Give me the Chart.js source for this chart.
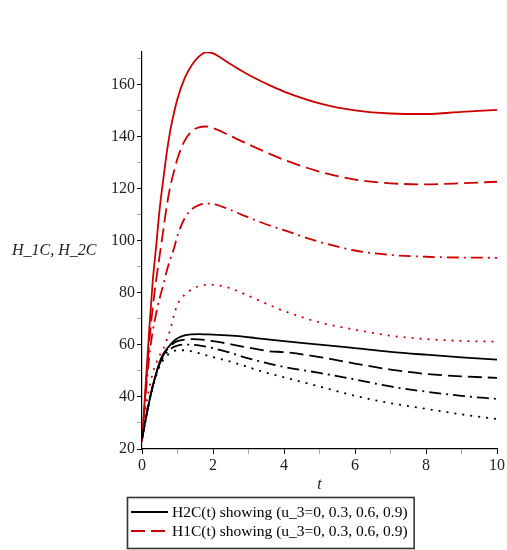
<!DOCTYPE html>
<html>
<head>
<meta charset="utf-8">
<script src="https://cdn.jsdelivr.net/npm/chart.js@4"></script>
<style>
  html, body { margin: 0; padding: 0; background: #fff; }
  #wrap { width: 507px; height: 550px; }
</style>
</head>
<body>
<div id="wrap"><canvas id="c" width="507" height="550"></canvas></div>
<script>
// Time samples shared by every curve
const tValues = [0, 0.1, 0.2, 0.3, 0.4, 0.5, 0.6, 0.7, 0.8, 0.9, 1.0, 1.2, 1.4, 1.6, 1.8, 2.0, 2.4, 2.8, 3.2, 3.6, 4.0, 5, 6, 7, 8, 9, 10];

// H1C(t) for u_3 = 0, 0.3, 0.6, 0.9
const h1cU00 = [23, 44, 65, 84, 98, 112.5, 123.5, 134, 142.5, 149, 154.5, 162.3, 167.3, 170.6, 172.3, 171.9, 168.6, 165.2, 162.2, 159.6, 157.2, 152.7, 150, 148.8, 148.6, 149.4, 150.2];
const h1cU03 = [23, 42, 60, 74, 85, 94.5, 104, 113.5, 121, 126.5, 131.5, 138.3, 142, 143.5, 143.8, 143.2, 140.8, 138.2, 135.7, 133.3, 131, 126.5, 123.4, 122, 121.6, 122, 122.6];
const h1cU06 = [23, 40, 55, 65, 72, 78, 83, 88.5, 93, 97, 102, 108.5, 112, 113.6, 114.2, 114, 112.3, 110, 107.8, 105.8, 104, 99.5, 96.2, 94.5, 93.8, 93.5, 93.4];
const h1cU09 = [23, 35, 43, 49, 53, 56, 58.5, 62, 66, 71.5, 75.5, 79.2, 81.2, 82.5, 83, 83, 82.1, 80, 77.6, 75.2, 73, 68.6, 65.8, 63.5, 62.2, 61.5, 61.2];

// H2C(t) for u_3 = 0, 0.3, 0.6, 0.9
const h2cU00 = [24, 31, 38, 44, 49, 53.5, 56.5, 58.5, 60, 61.5, 62.5, 63.6, 64, 64.1, 64, 63.9, 63.6, 63.2, 62.6, 62, 61.4, 60.1, 58.7, 57.3, 56.2, 55.2, 54.3];
const h2cU03 = [24, 31, 38, 44, 49, 53.3, 56, 58, 59.5, 60.7, 61.4, 62, 62.2, 62.1, 61.8, 61.4, 60.5, 59.4, 58.4, 57.5, 57.2, 55.3, 52.8, 50.5, 48.8, 47.9, 47.3];
const h2cU06 = [24, 31, 38, 44, 48.8, 52.8, 55.3, 57, 58.3, 59.2, 59.7, 60.1, 60, 59.8, 59.3, 58.7, 57.3, 55.6, 54.1, 52.7, 51.5, 49.2, 46.7, 44, 42, 40.4, 39.2];
const h2cU09 = [24, 31, 37.8, 43.5, 48, 51.8, 54.2, 55.8, 56.9, 57.6, 57.9, 57.9, 57.5, 56.8, 56, 55.3, 53.9, 52.3, 50.5, 48.9, 47.5, 44, 40.4, 37.6, 35.4, 33.3, 31.5];

// Axis and legend texts
const yTitle = 'H_1C, H_2C';
const xTitle = 't';
const legendLabels = ['H2C(t) showing (u_3=0, 0.3, 0.6, 0.9)', 'H1C(t) showing (u_3=0, 0.3, 0.6, 0.9)'];

const RED = '#cc0000';
const BLACK = '#000000';
const SERIF = '"Liberation Serif", "Times New Roman", serif';

const dashStyles = [[], [14, 6], [12, 5, 2, 5], [2, 6]];

function series(values, color, dash, label) {
  return {
    label: label,
    data: tValues.map((t, i) => ({ x: t, y: values[i] })),
    borderColor: color,
    backgroundColor: color,
    borderWidth: 1.8,
    borderDash: dash,
    pointRadius: 0,
    fill: false,
    cubicInterpolationMode: 'monotone'
  };
}

const datasets = [
  series(h2cU00, BLACK, dashStyles[0], legendLabels[0]),
  series(h2cU03, BLACK, dashStyles[1], ''),
  series(h2cU06, BLACK, dashStyles[2], ''),
  series(h2cU09, BLACK, dashStyles[3], ''),
  series(h1cU00, RED, dashStyles[0], ''),
  series(h1cU03, RED, dashStyles[1], legendLabels[1]),
  series(h1cU06, RED, dashStyles[2], ''),
  series(h1cU09, RED, dashStyles[3], '')
];

// Horizontal y-axis caption and boxed legend under the plot
const decorations = {
  id: 'decorations',
  afterDraw(chart) {
    const ctx = chart.ctx;
    const area = chart.chartArea;
    ctx.save();
    ctx.fillStyle = '#222';
    ctx.font = 'italic 16px ' + SERIF;
    ctx.textAlign = 'left';
    ctx.textBaseline = 'middle';
    ctx.fillText(yTitle, 12, (area.top + area.bottom) / 2);

    // legend entries: the labelled dataset of each colour group
    const entries = chart.data.datasets.filter(d => d.label);
    const boxLeft = area.left - 15;
    const boxTop = 497;
    const rowH = 19;
    const sampleW = 37;
    ctx.font = '15.5px ' + SERIF;
    let maxW = 0;
    entries.forEach(e => { maxW = Math.max(maxW, ctx.measureText(e.label).width); });
    const boxW = 4 + sampleW + 4 + maxW + 6;
    const boxH = 8 + rowH * entries.length + 5;
    entries.forEach((e, i) => {
      const cy = boxTop + 15 + i * rowH;
      ctx.beginPath();
      ctx.setLineDash(e.borderDash || []);
      ctx.strokeStyle = e.borderColor;
      ctx.lineWidth = 2;
      ctx.moveTo(boxLeft + 4, cy);
      ctx.lineTo(boxLeft + 4 + sampleW, cy);
      ctx.stroke();
      ctx.setLineDash([]);
      ctx.fillStyle = '#000';
      ctx.fillText(e.label, boxLeft + 4 + sampleW + 4, cy + 1);
    });
    ctx.lineWidth = 1.6;
    ctx.strokeStyle = '#333';
    ctx.strokeRect(boxLeft + 0.5, boxTop + 0.5, boxW, boxH);
    ctx.restore();
  }
};

new Chart(document.getElementById('c'), {
  type: 'line',
  data: { datasets: datasets },
  plugins: [decorations],
  options: {
    responsive: false,
    animation: false,
    events: [],
    layout: { padding: { top: 52, left: 90, right: 10, bottom: 51 } },
    plugins: {
      legend: { display: false },
      tooltip: { enabled: false },
      title: { display: false }
    },
    scales: {
      x: {
        type: 'linear',
        min: 0,
        max: 10,
        afterFit(scale) { scale.height = 50; },
        ticks: {
          stepSize: 1,
          autoSkip: false,
          padding: 2,
          color: '#222',
          font: { family: SERIF, size: 16 },
          maxRotation: 0,
          callback: v => (v % 2 === 0 ? String(v) : '')
        },
        grid: {
          drawOnChartArea: false,
          drawTicks: true,
          tickLength: 5,
          tickColor: c => (c.tick && c.tick.value % 2 === 0 ? '#111' : '#aaa')
        },
        border: { display: true, color: '#000', width: 1.2 },
        title: {
          display: true,
          text: xTitle,
          color: '#222',
          font: { family: SERIF, size: 16, style: 'italic' },
          padding: { top: 0, bottom: 5 }
        }
      },
      y: {
        type: 'linear',
        min: 20,
        max: 172.4,
        afterFit(scale) { scale.width = 52; },
        ticks: {
          stepSize: 10,
          includeBounds: false,
          autoSkip: false,
          padding: 2,
          color: '#222',
          font: { family: SERIF, size: 16 },
          callback: v => (v % 20 === 0 ? String(v) : '')
        },
        grid: {
          drawOnChartArea: false,
          drawTicks: true,
          tickLength: 5,
          tickColor: c => (c.tick && c.tick.value % 20 === 0 ? '#111' : '#aaa')
        },
        border: { display: true, color: '#000', width: 1.2 }
      }
    }
  }
});
</script>
</body>
</html>
